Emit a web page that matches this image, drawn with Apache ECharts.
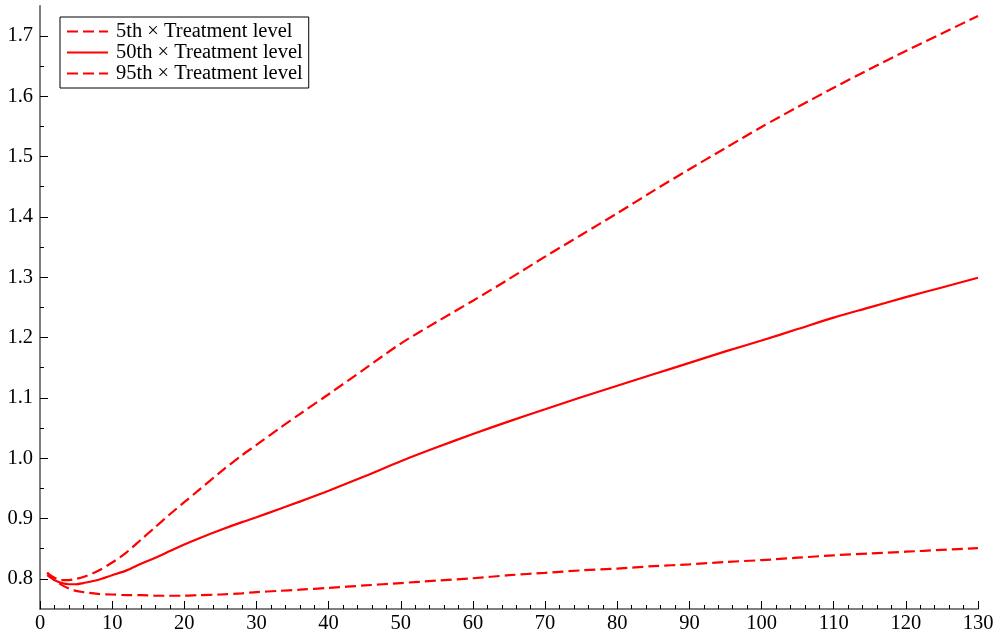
<!DOCTYPE html>
<html>
<head>
<meta charset="utf-8">
<script src="https://cdn.jsdelivr.net/npm/echarts@6/dist/echarts.min.js"></script>
<style>
html,body{margin:0;padding:0;background:#fff;}
#c{width:1000px;height:637px;}
</style>
</head>
<body>
<div id="c"></div>
<script>
const xs = [1,2,3,4,5,6,8,10,12,14,16,18,20,22,25,28,30,33,36,40,45,50,55,60,65,70,75,80,85,90,95,100,105,110,115,120,125,130];
const p5 = [0.810,0.798,0.790,0.784,0.780,0.778,0.775,0.774,0.773,0.773,0.772,0.772,0.772,0.773,0.774,0.776,0.778,0.780,0.782,0.785,0.789,0.793,0.797,0.801,0.806,0.810,0.814,0.817,0.821,0.824,0.828,0.831,0.835,0.839,0.842,0.845,0.848,0.851];
const p50 = [0.806,0.798,0.793,0.791,0.791,0.793,0.798,0.806,0.814,0.825,0.835,0.846,0.857,0.867,0.881,0.894,0.902,0.915,0.928,0.946,0.970,0.995,1.018,1.040,1.061,1.081,1.101,1.120,1.139,1.158,1.177,1.195,1.214,1.233,1.250,1.267,1.283,1.299];
const p95 = [0.810,0.802,0.798,0.798,0.800,0.803,0.813,0.827,0.844,0.865,0.886,0.907,0.927,0.947,0.977,1.005,1.022,1.048,1.073,1.106,1.148,1.190,1.226,1.261,1.297,1.334,1.370,1.406,1.443,1.479,1.514,1.549,1.582,1.614,1.645,1.675,1.704,1.733];
const seriesNames = ['5th \u00d7 Treatment level','50th \u00d7 Treatment level','95th \u00d7 Treatment level'];
const yMajorTicks = [0.8,0.9,1.0,1.1,1.2,1.3,1.4,1.5,1.6,1.7];
const yMinorTicks = [0.85,0.95,1.05,1.15,1.25,1.35,1.45,1.55,1.65];

const font = "'Liberation Serif','DejaVu Serif',serif";
function pairs(ys){ return xs.map((x,i)=>[x,ys[i]]); }
const red = '#ff0000';
function mk(name, ys, dashed){
  return {
    name: name, type:'line', data: pairs(ys), symbol:'none', smooth:0.3,
    lineStyle:{color:red, width:2.2, type: dashed ? [11,5] : 'solid'},
    itemStyle:{color:red}, z:3
  };
}
const chart = echarts.init(document.getElementById('c'));
chart.setOption({
  animation:false,
  backgroundColor:'#fff',
  grid:{left:40,right:22,top:5.7,bottom:28},
  legend:{
    orient:'vertical', left:60, top:17,
    padding:[4,6,4,6], itemGap:0, itemWidth:41, itemHeight:14,
    backgroundColor:'#fff', borderColor:'#000', borderWidth:1,
    itemStyle:{opacity:0},
    textStyle:{fontFamily:font, fontSize:20.5, color:'#000', lineHeight:20, padding:[0,0,0,3]},
    data: seriesNames
  },
  xAxis:{
    type:'value', min:0, max:130, interval:10,
    axisLine:{lineStyle:{color:'#555',width:1.5}},
    axisTick:{inside:true,length:8,lineStyle:{color:'#000',width:1}},
    minorTick:{show:true,splitNumber:5,length:4,lineStyle:{color:'#000',width:1}},
    axisLabel:{fontFamily:font,fontSize:20.5,color:'#000',margin:4},
    splitLine:{show:false}
  },
  yAxis:[{
    type:'value', min:0.75, max:1.75,
    axisLine:{show:true,lineStyle:{color:'#555',width:1.5}},
    axisTick:{show:true,inside:true,length:8,customValues:yMajorTicks,lineStyle:{color:'#000',width:1}},
    axisLabel:{fontFamily:font,fontSize:20.5,color:'#000',margin:7,customValues:yMajorTicks,
      formatter:function(v){return v.toFixed(1);}},
    splitLine:{show:false}
  },{
    type:'value', min:0.75, max:1.75, position:'left',
    axisLine:{show:false},
    axisTick:{show:true,inside:true,length:4,customValues:yMinorTicks,lineStyle:{color:'#000',width:1}},
    axisLabel:{show:false},
    splitLine:{show:false}
  }],
  series:[ mk(seriesNames[0],p5,true), mk(seriesNames[1],p50,false), mk(seriesNames[2],p95,true) ]
});
</script>
</body>
</html>
